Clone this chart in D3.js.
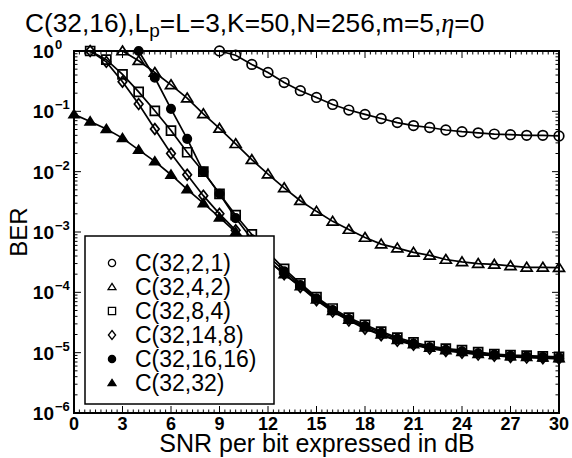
<!DOCTYPE html>
<html>
<head>
<meta charset="utf-8">
<script src="https://cdn.jsdelivr.net/npm/d3@7"></script>
<style>
  body { margin: 0; background: #fff; }
  svg { display: block; font-family: "Liberation Sans", Arial, sans-serif; }
</style>
</head>
<body>
<div id="chart"></div>
<script>
"use strict";

// SNR values (dB) and BER readings for each code
const snrCircle = d3.range(9, 31);
const berCircle = [1, 0.85, 0.60, 0.44, 0.30, 0.22, 0.17, 0.13, 0.105, 0.089, 0.076,
  0.065, 0.058, 0.054, 0.049, 0.046, 0.044, 0.042, 0.041, 0.040, 0.040, 0.039];

const snrTriangle = d3.range(3, 31);
const berTriangle = [1, 0.69, 0.44, 0.275, 0.166, 0.091, 0.052, 0.029, 0.0158, 0.0091,
  0.0054, 0.0033, 0.0022, 0.0015, 0.0011, 8.1e-4, 6.3e-4, 5.4e-4, 4.6e-4, 4.1e-4,
  3.5e-4, 3.2e-4, 3.0e-4, 2.9e-4, 2.75e-4, 2.6e-4, 2.6e-4, 2.57e-4];

const snrSquare = d3.range(1, 31);
const berSquare = [1, 0.72, 0.41, 0.21, 0.102, 0.048, 0.021, 0.010, 0.0043, 0.0019,
  9.1e-4, 4.6e-4, 2.45e-4, 1.41e-4, 8.3e-5, 5.4e-5, 3.8e-5, 2.9e-5, 2.24e-5, 1.78e-5,
  1.48e-5, 1.29e-5, 1.17e-5, 1.10e-5, 1.02e-5, 9.5e-6, 9.1e-6, 8.9e-6, 8.7e-6, 8.5e-6];

const snrDiamond = d3.range(1, 31);
const berDiamond = [1, 0.66, 0.31, 0.132, 0.051, 0.020, 0.0089, 0.0040, 0.0020, 0.00107,
  5.9e-4, 3.4e-4, 2.0e-4, 1.23e-4, 7.4e-5, 4.8e-5, 3.4e-5, 2.5e-5, 1.95e-5, 1.58e-5,
  1.35e-5, 1.17e-5, 1.07e-5, 1.0e-5, 9.3e-6, 8.9e-6, 8.5e-6, 8.3e-6, 8.1e-6, 7.9e-6];

const snrDot = d3.range(4, 31);
const berDot = [1, 0.36, 0.11, 0.035, 0.010, 0.0043, 0.0017, 7.6e-4, 4.0e-4, 2.24e-4,
  1.32e-4, 7.9e-5, 5.1e-5, 3.6e-5, 2.75e-5, 2.14e-5, 1.70e-5, 1.41e-5, 1.23e-5, 1.12e-5,
  1.05e-5, 9.8e-6, 9.3e-6, 8.9e-6, 8.7e-6, 8.5e-6, 8.3e-6];

const snrSolidTri = d3.range(0, 31);
const berSolidTri = [0.089, 0.068, 0.051, 0.036, 0.023, 0.0148, 0.0089, 0.0051, 0.0030,
  0.00174, 0.0010, 5.8e-4, 3.4e-4, 2.0e-4, 1.26e-4, 7.6e-5, 4.9e-5, 3.5e-5, 2.6e-5,
  2.0e-5, 1.62e-5, 1.38e-5, 1.20e-5, 1.10e-5, 1.02e-5, 9.5e-6, 9.1e-6, 8.7e-6, 8.5e-6,
  8.3e-6, 8.1e-6];

const seriesNames = ["C(32,2,1)", "C(32,4,2)", "C(32,8,4)", "C(32,14,8)", "C(32,16,16)", "C(32,32)"];
const xTicks = d3.range(0, 31, 3);
const yTickExps = [0, -1, -2, -3, -4, -5, -6];

// Marker shapes
function markerPath(kind, s) {
  const p = d3.path();
  if (kind == "circle" || kind == "dot") {
    p.arc(0, 0, s, 0, 2 * Math.PI);
  } else if (kind == "triangle" || kind == "solidtri") {
    p.moveTo(0, -s); p.lineTo(s * 1.1, s * 0.75); p.lineTo(-s * 1.1, s * 0.75); p.closePath();
  } else if (kind == "square") {
    p.rect(-s, -s, 2 * s, 2 * s);
  } else if (kind == "diamond") {
    p.moveTo(0, -s * 1.25); p.lineTo(s, 0); p.lineTo(0, s * 1.25); p.lineTo(-s, 0); p.closePath();
  }
  return p.toString();
}

const series = [
  { name: seriesNames[0], kind: "circle", size: 4.8, filled: false, x: snrCircle, y: berCircle },
  { name: seriesNames[1], kind: "triangle", size: 5.0, filled: false, x: snrTriangle, y: berTriangle },
  { name: seriesNames[2], kind: "square", size: 4.5, filled: false, x: snrSquare, y: berSquare },
  { name: seriesNames[3], kind: "diamond", size: 4.3, filled: false, x: snrDiamond, y: berDiamond },
  { name: seriesNames[4], kind: "dot", size: 4.2, filled: true, x: snrDot, y: berDot },
  { name: seriesNames[5], kind: "solidtri", size: 4.5, filled: true, x: snrSolidTri, y: berSolidTri }
];

const width = 572, height = 458;
const plotL = 74, plotR = 559, plotT = 51, plotB = 413;

const svg = d3.select("#chart").append("svg")
  .attr("width", width)
  .attr("height", height);

const x = d3.scaleLinear().domain([0, 30]).range([plotL, plotR]);
const y = d3.scaleLog().domain([1e-6, 1]).range([plotB, plotT]);

// Ticks (inward on all four sides)
const ticks = svg.append("g").attr("stroke", "black").attr("stroke-width", 1);
d3.range(0, 30.01, 1 / 3).forEach(function(v) {
  const major = Math.abs(v / 3 - Math.round(v / 3)) < 1e-6;
  const len = major ? 7 : 3.5;
  ticks.append("line").attr("x1", x(v)).attr("x2", x(v)).attr("y1", plotB).attr("y2", plotB - len);
  ticks.append("line").attr("x1", x(v)).attr("x2", x(v)).attr("y1", plotT).attr("y2", plotT + len);
});
yTickExps.forEach(function(e) {
  const v = Math.pow(10, e);
  ticks.append("line").attr("x1", plotL).attr("x2", plotL + 7).attr("y1", y(v)).attr("y2", y(v));
  ticks.append("line").attr("x1", plotR).attr("x2", plotR - 7).attr("y1", y(v)).attr("y2", y(v));
  if (e < 0) {
    d3.range(2, 10).forEach(function(m) {
      const mv = m * v;
      ticks.append("line").attr("x1", plotL).attr("x2", plotL + 3.5).attr("y1", y(mv)).attr("y2", y(mv));
      ticks.append("line").attr("x1", plotR).attr("x2", plotR - 3.5).attr("y1", y(mv)).attr("y2", y(mv));
    });
  }
});

// Frame
svg.append("rect")
  .attr("x", plotL).attr("y", plotT)
  .attr("width", plotR - plotL).attr("height", plotB - plotT)
  .attr("fill", "none").attr("stroke", "black").attr("stroke-width", 2);

// X tick labels
svg.append("g").selectAll("text").data(xTicks).join("text")
  .attr("x", d => x(d))
  .attr("y", 430)
  .attr("text-anchor", "middle")
  .attr("font-size", "18px")
  .attr("font-weight", "bold")
  .text(d => d);

// Y tick labels: 10 with superscript exponent
const ylab = svg.append("g");
yTickExps.forEach(function(e) {
  ylab.append("text")
    .attr("x", 54)
    .attr("y", y(Math.pow(10, e)) + 7)
    .attr("text-anchor", "end")
    .attr("font-size", "19px")
    .attr("font-weight", "bold")
    .text("10");
  ylab.append("text")
    .attr("x", 55)
    .attr("y", y(Math.pow(10, e)) - 2)
    .attr("font-size", "13px")
    .attr("font-weight", "bold")
    .text(e == 0 ? "0" : "\u2212" + Math.abs(e));
});

// Curves
const plot = svg.append("g");
const line = d3.line().x(d => x(d[0])).y(d => y(d[1]));
series.forEach(function(s) {
  const pts = s.x.map((v, i) => [v, s.y[i]]);
  plot.append("path")
    .attr("d", line(pts))
    .attr("fill", "none")
    .attr("stroke", "black")
    .attr("stroke-width", 1.7);
  plot.append("g").selectAll("path").data(pts).join("path")
    .attr("transform", d => "translate(" + x(d[0]) + "," + y(d[1]) + ")")
    .attr("d", markerPath(s.kind, s.size))
    .attr("fill", s.filled ? "black" : "none")
    .attr("stroke", "black")
    .attr("stroke-width", 1.7);
});

// Legend
const lg = svg.append("g");
lg.append("rect")
  .attr("x", 85).attr("y", 236)
  .attr("width", 189).attr("height", 168)
  .attr("fill", "white").attr("stroke", "black").attr("stroke-width", 1.5);
series.forEach(function(s, i) {
  const cy = 263 + i * 24;
  lg.append("path")
    .attr("transform", "translate(112," + cy + ")")
    .attr("d", markerPath(s.kind, 3.6))
    .attr("fill", s.filled ? "black" : "none")
    .attr("stroke", "black")
    .attr("stroke-width", 1.3);
  lg.append("text")
    .attr("x", 135)
    .attr("y", cy + 8)
    .attr("font-size", "23px")
    .text(s.name);
});

// Title
const title = svg.append("text")
  .attr("x", 25).attr("y", 32)
  .attr("font-size", "26.3px");
title.append("tspan").text("C(32,16),L");
title.append("tspan").attr("dy", 5).attr("font-size", "19px").text("p");
title.append("tspan").attr("dy", -5).text("=L=3,K=50,N=256,m=5,");
title.append("tspan").attr("font-family", "Liberation Serif, serif").attr("font-style", "italic").text("\u03b7");
title.append("tspan").text("=0");

// Axis labels
svg.append("text")
  .attr("x", 317).attr("y", 452)
  .attr("text-anchor", "middle")
  .attr("font-size", "25px")
  .text("SNR per bit expressed in dB");

svg.append("text")
  .attr("transform", "translate(27,232) rotate(-90)")
  .attr("text-anchor", "middle")
  .attr("font-size", "24px")
  .text("BER");
</script>
</body>
</html>
